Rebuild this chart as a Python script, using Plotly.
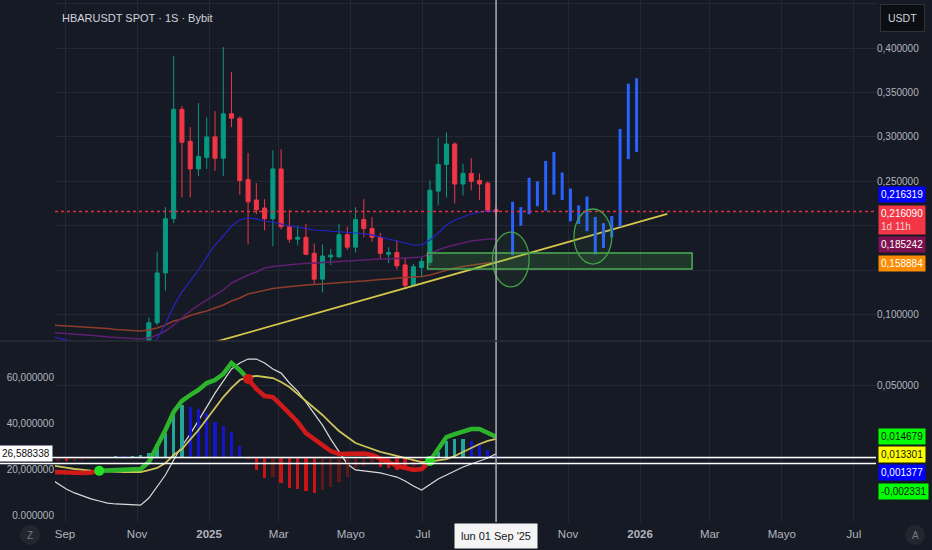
import plotly.graph_objects as go

# ---------------- data ----------------
weeks = ["2024-08-19", "2024-08-26", "2024-09-02", "2024-09-09", "2024-09-16", "2024-09-23",
         "2024-09-30", "2024-10-07", "2024-10-14", "2024-10-21", "2024-10-28", "2024-11-04",
         "2024-11-11", "2024-11-18", "2024-11-25", "2024-12-02", "2024-12-09", "2024-12-16",
         "2024-12-23", "2024-12-30", "2025-01-06", "2025-01-13", "2025-01-20", "2025-01-27",
         "2025-02-03", "2025-02-10", "2025-02-17", "2025-02-24", "2025-03-03", "2025-03-10",
         "2025-03-17", "2025-03-24", "2025-03-31", "2025-04-07", "2025-04-14", "2025-04-21",
         "2025-04-28", "2025-05-05", "2025-05-12", "2025-05-19", "2025-05-26", "2025-06-02",
         "2025-06-09", "2025-06-16", "2025-06-23", "2025-06-30", "2025-07-07", "2025-07-14",
         "2025-07-21", "2025-07-28", "2025-08-04", "2025-08-11", "2025-08-18", "2025-08-25",
         "2025-09-01"]

candle_dates = weeks[12:]
candle_open = [0.060, 0.091, 0.147, 0.208, 0.331, 0.295, 0.264, 0.277, 0.300, 0.276, 0.326,
               0.321, 0.252, 0.229, 0.220, 0.208, 0.264, 0.199, 0.185, 0.187, 0.169, 0.140,
               0.165, 0.165, 0.190, 0.176, 0.207, 0.197, 0.187, 0.168, 0.170, 0.156, 0.133,
               0.153, 0.159, 0.239, 0.269, 0.292, 0.247, 0.259, 0.251, 0.248, 0.218]
candle_high = [0.097, 0.171, 0.221, 0.391, 0.335, 0.311, 0.338, 0.322, 0.329, 0.401, 0.373,
               0.323, 0.282, 0.248, 0.230, 0.285, 0.286, 0.218, 0.200, 0.202, 0.180, 0.179,
               0.174, 0.202, 0.199, 0.221, 0.230, 0.210, 0.192, 0.176, 0.184, 0.164, 0.157,
               0.165, 0.251, 0.299, 0.305, 0.294, 0.270, 0.276, 0.259, 0.250, 0.224]
candle_low = [0.055, 0.088, 0.127, 0.203, 0.232, 0.232, 0.256, 0.264, 0.262, 0.256, 0.311,
              0.235, 0.179, 0.213, 0.195, 0.177, 0.196, 0.181, 0.178, 0.167, 0.134, 0.125,
              0.156, 0.164, 0.173, 0.170, 0.187, 0.182, 0.162, 0.158, 0.151, 0.129, 0.132,
              0.143, 0.155, 0.223, 0.232, 0.225, 0.234, 0.240, 0.229, 0.216, 0.211]
candle_close = [0.091, 0.147, 0.208, 0.331, 0.294, 0.264, 0.278, 0.300, 0.276, 0.326, 0.321,
                0.251, 0.227, 0.218, 0.208, 0.264, 0.199, 0.185, 0.187, 0.168, 0.140, 0.166,
                0.167, 0.190, 0.176, 0.207, 0.197, 0.187, 0.169, 0.170, 0.155, 0.133, 0.154,
                0.160, 0.240, 0.269, 0.292, 0.247, 0.259, 0.250, 0.247, 0.217, 0.21609]

ma_blue = [0.0760, 0.0738, 0.0715, 0.0693, 0.066, 0.063, 0.061, 0.059, 0.058, 0.057, 0.056, 0.055,
           0.062, 0.0727, 0.0895, 0.1098, 0.1255, 0.1379, 0.1503, 0.1650, 0.1784, 0.1885, 0.1998,
           0.2065, 0.2088, 0.2077, 0.2054, 0.2043, 0.2020, 0.1998, 0.1986, 0.1970, 0.1953, 0.1947,
           0.1942, 0.1936, 0.1930, 0.1919, 0.1908, 0.1897, 0.1874, 0.1852, 0.1823, 0.1807, 0.1784,
           0.1784, 0.1840, 0.1919, 0.2009, 0.2065, 0.2099, 0.2133, 0.2155, 0.2166, 0.216319]
ma_purple = [0.0800, 0.0794, 0.0783, 0.0777, 0.0772, 0.0766, 0.0760, 0.0749, 0.0743, 0.0738,
             0.0732, 0.0727, 0.0738, 0.0772, 0.0817, 0.0884, 0.0963, 0.1042, 0.1109, 0.1165,
             0.1222, 0.1278, 0.1357, 0.1402, 0.1447, 0.1480, 0.1525, 0.1542, 0.1554, 0.1565,
             0.1570, 0.1576, 0.1582, 0.1587, 0.1593, 0.1593, 0.1604, 0.1610, 0.1615, 0.1621,
             0.1627, 0.1627, 0.1632, 0.1632, 0.1638, 0.1649, 0.1683, 0.1728, 0.1762, 0.1784,
             0.1807, 0.1829, 0.1840, 0.1852, 0.185242]
ma_brown = [0.0884, 0.0879, 0.0873, 0.0867, 0.0862, 0.0856, 0.0850, 0.0845, 0.0834, 0.0828,
            0.0822, 0.0817, 0.0828, 0.0850, 0.0884, 0.0929, 0.0952, 0.0991, 0.1019, 0.1042,
            0.1075, 0.1109, 0.1154, 0.1188, 0.1233, 0.1255, 0.1278, 0.1295, 0.1306, 0.1317,
            0.1328, 0.1334, 0.1340, 0.1345, 0.1351, 0.1357, 0.1368, 0.1373, 0.1379, 0.1390,
            0.1396, 0.1402, 0.1413, 0.1418, 0.1424, 0.1430, 0.1447, 0.1475, 0.1503, 0.1525,
            0.1542, 0.1559, 0.1570, 0.1582, 0.158884]

proj_dates = ["2025-09-15", "2025-09-22", "2025-09-29", "2025-10-06", "2025-10-13", "2025-10-20",
              "2025-10-27", "2025-11-03", "2025-11-10", "2025-11-17", "2025-11-24", "2025-12-01",
              "2025-12-08", "2025-12-15", "2025-12-22", "2025-12-29"]
proj_high = [0.227, 0.221, 0.254, 0.250, 0.273, 0.283, 0.260, 0.242, 0.223, 0.233, 0.210, 0.203,
             0.211, 0.309, 0.360, 0.366]
proj_low = [0.167, 0.200, 0.213, 0.222, 0.217, 0.235, 0.229, 0.205, 0.202, 0.194, 0.168, 0.175,
            0.187, 0.199, 0.275, 0.283]

trend_x = ["2024-12-15", "2026-01-24"]
trend_y = [0.0611, 0.2133]
zone_x = ["2025-07-05", "2026-02-14"]
zone_y = [0.1514, 0.1694]
ell_x0 = ["2025-08-29", "2025-11-06"]
ell_x1 = ["2025-09-29", "2025-12-08"]
ell_y0 = [0.1312, 0.1570]
ell_y1 = [0.1930, 0.2189]
last_price = 0.21609

macd = [-0.0095, -0.0097, -0.0100, -0.0104, -0.0104, -0.0100, -0.0089, -0.0087, -0.0087, -0.0087,
        -0.0083, -0.0076, -0.0028, 0.0076, 0.0194, 0.0319, 0.0395, 0.0436, 0.0471, 0.0519, 0.0540,
        0.0582, 0.0658, 0.0609, 0.0547, 0.0478, 0.0429, 0.0422, 0.0367, 0.0305, 0.0249, 0.0173,
        0.0132, 0.0083, 0.0048, 0.0028, 0.0028, 0.0035, 0.0031, 0.0021, 0.0000, -0.0028, -0.0055,
        -0.0069, -0.0083, -0.0076, -0.0021, 0.0062, 0.0145, 0.0166, 0.0187, 0.0201, 0.0201, 0.0173,
        0.014679]
signal = [-0.0048, -0.0055, -0.0066, -0.0076, -0.0083, -0.0087, -0.0090, -0.0093, -0.0097, -0.0097,
          -0.0097, -0.0097, -0.0083, -0.0069, -0.0035, 0.0021, 0.0062, 0.0125, 0.0194, 0.0270,
          0.0346, 0.0422, 0.0485, 0.0540, 0.0561, 0.0568, 0.0561, 0.0554, 0.0526, 0.0492, 0.0443,
          0.0395, 0.0346, 0.0298, 0.0242, 0.0187, 0.0145, 0.0104, 0.0083, 0.0062, 0.0042, 0.0028,
          0.0014, 0.0000, -0.0014, -0.0028, -0.0024, -0.0017, -0.0007, 0.0014, 0.0042, 0.0069,
          0.0097, 0.0118, 0.013301]
hist = [-0.0025, -0.0020, -0.0022, -0.0020, -0.0015, -0.0010, 0.0003, 0.0006, 0.0010, 0.0010,
        0.0013, 0.0020, 0.0035, 0.0097, 0.0173, 0.0298, 0.0367, 0.0353, 0.0339, 0.0312, 0.0249,
        0.0222, 0.0180, 0.0083, -0.0007, -0.0083, -0.0139, -0.0132, -0.0173, -0.0208, -0.0218,
        -0.0226, -0.0242, -0.0222, -0.0201, -0.0166, -0.0132, -0.0069, -0.0055, -0.0042, -0.0062,
        -0.0069, -0.0083, -0.0084, -0.0069, -0.0035, 0.0004, 0.0042, 0.0118, 0.0132, 0.0133,
        0.0118, 0.0097, 0.0055, 0.001377]
osc_white = [16.0, 13.5, 11.3, 9.6, 8.3, 7.0, 6.1, 5.2, 4.8, 4.6, 4.3, 4.3, 7.4, 12.2, 17.4, 23.9,
             30.0, 35.2, 40.9, 47.0, 53.0, 58.3, 63.5, 66.1, 67.8, 67.8, 66.1, 63.5, 61.7, 57.4,
             53.9, 49.1, 43.9, 39.1, 33.0, 27.8, 22.2, 19.6, 19.1, 18.7, 18.3, 17.4, 16.5, 14.8,
             12.6, 10.9, 13.5, 15.7, 17.4, 19.1, 20.9, 22.2, 23.5, 24.8, 26.588338]
osc_levels = [25.0, 22.4]

x_tick_vals = ["2024-09-01", "2024-11-01", "2025-01-01", "2025-03-01", "2025-05-01", "2025-07-01",
               "2025-09-01", "2025-11-01", "2026-01-01", "2026-03-01", "2026-05-01", "2026-07-01"]
x_tick_text = ["Sep", "Nov", "<b>2025</b>", "Mar", "Mayo", "Jul", "", "Nov", "<b>2026</b>", "Mar",
               "Mayo", "Jul"]
price_ticks = [0.10, 0.15, 0.20, 0.25, 0.30, 0.35, 0.40, 0.45]
price_tick_text = ["0,100000", "", "", "0,250000", "0,300000", "0,350000", "0,400000", ""]
osc_ticks = [0, 20, 40, 60]
osc_tick_text = ["0.000000", "20,000000", "40,000000", "60,000000"]
macd_ticks = [0.0, 0.05]
macd_tick_text = ["", "0,050000"]
crosshair_date = "2025-09-01"

# ---------------- style ----------------
FONT = "Liberation Sans, Arial, sans-serif"
BG = "#161a25"
GRID = "#242835"
TXT = "#b2b5be"
UP = "#089981"
DOWN = "#f23645"

fig = go.Figure()

# moving averages (main pane)
fig.add_trace(go.Scatter(x=weeks, y=ma_brown, mode="lines", line=dict(color="#8e3d2c", width=1.5),
                         xaxis="x", yaxis="y", hoverinfo="skip"))
fig.add_trace(go.Scatter(x=weeks, y=ma_purple, mode="lines", line=dict(color="#5f1f70", width=1.5),
                         xaxis="x", yaxis="y", hoverinfo="skip"))
fig.add_trace(go.Scatter(x=weeks, y=ma_blue, mode="lines", line=dict(color="#2424c8", width=1.2),
                         xaxis="x", yaxis="y", hoverinfo="skip"))

# candles
fig.add_trace(go.Candlestick(
    x=candle_dates, open=candle_open, high=candle_high, low=candle_low, close=candle_close,
    increasing=dict(line=dict(color=UP, width=1), fillcolor=UP),
    decreasing=dict(line=dict(color=DOWN, width=1), fillcolor=DOWN),
    whiskerwidth=0, xaxis="x", yaxis="y", hoverinfo="skip"))

# trendline
fig.add_trace(go.Scatter(x=trend_x, y=trend_y, mode="lines", line=dict(color="#d6c64a", width=1.8),
                         xaxis="x", yaxis="y", hoverinfo="skip"))

# projected bars
pxs, pys = [], []
for d, lo, hi in zip(proj_dates, proj_low, proj_high):
    pxs += [d, d, None]
    pys += [lo, hi, None]
fig.add_trace(go.Scatter(x=pxs, y=pys, mode="lines", line=dict(color="#2962ff", width=3),
                         xaxis="x", yaxis="y", hoverinfo="skip", connectgaps=False))

# lower pane: oscillator (left scale)
fig.add_trace(go.Scatter(x=weeks, y=osc_white, mode="lines", line=dict(color="#d9d9d9", width=1.2),
                         xaxis="x", yaxis="y2", hoverinfo="skip"))

# histogram colours
hcol = []
for i, h in enumerate(hist):
    prev = hist[i - 1] if i > 0 else h
    if h >= 0:
        hcol.append("#26a69a" if h > prev else "#1414d2")
    else:
        hcol.append("#c81414" if h < prev else "#5e1818")
fig.add_trace(go.Bar(x=weeks, y=hist, marker=dict(color=hcol, line=dict(width=0)),
                     width=2.8 * 86400000, xaxis="x", yaxis="y3", hoverinfo="skip"))

# signal
fig.add_trace(go.Scatter(x=weeks, y=signal, mode="lines", line=dict(color="#cdc45a", width=1.8),
                         xaxis="x", yaxis="y3", hoverinfo="skip"))

# macd coloured segments
state = [m >= s for m, s in zip(macd, signal)]
start = 0
for i in range(1, len(macd) + 1):
    if i == len(macd) or state[i] != state[start]:
        end = min(i, len(macd) - 1)
        seg_x = weeks[start:end + 1]
        seg_y = macd[start:end + 1]
        fig.add_trace(go.Scatter(x=seg_x, y=seg_y, mode="lines",
                                 line=dict(color="#2cb52c" if state[start] else "#d01a1a", width=4.5),
                                 xaxis="x", yaxis="y3", hoverinfo="skip"))
        start = i
cx, cy, cc = [], [], []
for i in range(1, len(macd)):
    if state[i] != state[i - 1]:
        cx.append(weeks[i]); cy.append(macd[i])
        cc.append("#22e022" if state[i] else "#d01a1a")
fig.add_trace(go.Scatter(x=cx, y=cy, mode="markers", marker=dict(color=cc, size=10),
                         xaxis="x", yaxis="y3", hoverinfo="skip"))

# ---------------- shapes ----------------
shapes = []
shapes.append(dict(type="rect", xref="x", yref="y", x0=zone_x[0], x1=zone_x[1], y0=zone_y[0], y1=zone_y[1],
                   line=dict(color="#4caf50", width=1.5), fillcolor="rgba(76,175,80,0.18)"))
for a, b, c, d in zip(ell_x0, ell_x1, ell_y0, ell_y1):
    shapes.append(dict(type="circle", xref="x", yref="y", x0=a, x1=b, y0=c, y1=d,
                       line=dict(color="#43a047", width=1.3), fillcolor="rgba(76,175,80,0.08)"))
shapes.append(dict(type="line", xref="x domain", yref="y", x0=0, x1=1, y0=last_price, y1=last_price,
                   line=dict(color="#e0303f", width=1.5, dash="dot")))
for lv in osc_levels:
    shapes.append(dict(type="line", xref="paper", yref="y2", x0=-0.068, x1=1.0, y0=lv, y1=lv,
                       line=dict(color="#ffffff", width=1.6)))
shapes.append(dict(type="line", xref="x", yref="paper", x0=crosshair_date, x1=crosshair_date, y0=0, y1=1,
                   line=dict(color="#a9acb5", width=1.5)))
shapes.append(dict(type="line", xref="paper", yref="paper", x0=-0.068, x1=1.07, y0=0.3467, y1=0.3467,
                   line=dict(color="#2a2e39", width=1.5)))
# bottom icons
shapes.append(dict(type="circle", xref="paper", yref="paper", x0=-0.0426, x1=-0.0182, y0=-0.0441,
                   y1=-0.0058, line=dict(width=0), fillcolor="#22262f"))
shapes.append(dict(type="circle", xref="paper", yref="paper", x0=1.0354, x1=1.0597, y0=-0.0441,
                   y1=-0.0058, line=dict(width=0), fillcolor="#22262f"))

# ---------------- annotations ----------------
ann = []
ann.append(dict(text="HBARUSDT SPOT · 1S · Bybit", xref="paper", yref="paper", x=0.006, y=0.966,
                xanchor="left", yanchor="middle", showarrow=False,
                font=dict(family=FONT, size=11, color="#d1d4dc")))
ann.append(dict(text="USDT", xref="paper", yref="paper", x=1, xshift=4, y=0.966, xanchor="left",
                yanchor="middle", showarrow=False, bgcolor="#0c0e13", bordercolor="#2e323d",
                borderwidth=1, borderpad=7, font=dict(family=FONT, size=10.5, color="#d1d4dc")))


def badge(text, yref, yval, bg, fg, yshift=0, right=True):
    return dict(text=text, xref="paper", x=1 if right else 0, xanchor="left" if right else "right",
                xshift=2 if right else -2, yref=yref, y=yval, yanchor="middle", yshift=yshift,
                showarrow=False, bgcolor=bg, borderpad=2, align="left",
                font=dict(family=FONT, size=10, color=fg))


ann.append(badge("0,216319", "y", ma_blue[-1], "#0000ff", "#ffffff", 17))
ann.append(badge("0,216090<br><span style='color:#f5d0d4'>1d 11h</span>", "y", last_price, DOWN,
                 "#ffffff", -8))
ann.append(badge("0,185242", "y", ma_purple[-1], "#7d1150", "#ffffff", -6))
ann.append(badge("0,158884", "y", ma_brown[-1], "#fb8c00", "#ffffff", -1))
ann.append(badge("0,014679", "y3", macd[-1], "#00ff00", "#111111", 0))
ann.append(badge("0,013301", "y3", signal[-1], "#ffff00", "#111111", -16))
ann.append(badge("0,001377", "y3", hist[-1], "#0000ff", "#ffffff", -16))
ann.append(badge("-0,002331", "y3", -0.002331, "#00ff00", "#111111", -30))
ann.append(badge("26,588338", "y2", osc_white[-1], "#ffffff", "#111111", 0, right=False))
ann.append(dict(text="lun 01 Sep '25", xref="x", x=crosshair_date, yref="paper", y=0, yanchor="top",
                yshift=-1, showarrow=False, bgcolor="#f4f4f4", borderpad=6,
                font=dict(family=FONT, size=11, color="#131722")))
ann.append(dict(text="Z", xref="paper", yref="paper", x=-0.0304, y=-0.025, yanchor="middle",
                xanchor="center", showarrow=False, font=dict(family=FONT, size=10, color="#787b86")))
ann.append(dict(text="A", xref="paper", yref="paper", x=1.0476, y=-0.025, yanchor="middle",
                xanchor="center", showarrow=False, font=dict(family=FONT, size=10, color="#787b86")))

fig.update_layout(
    width=932, height=550,
    margin=dict(l=55, r=56, t=0, b=28),
    paper_bgcolor=BG, plot_bgcolor=BG,
    showlegend=False, separators=",.",
    bargap=0, barmode="overlay",
    font=dict(family=FONT, color=TXT),
    xaxis=dict(type="date", domain=[0, 1], anchor="y2",
               range=["2024-08-23 12:00", "2026-07-19 18:00"],
               tickmode="array", tickvals=x_tick_vals, ticktext=x_tick_text,
               showgrid=True, gridcolor=GRID, gridwidth=1, zeroline=False, showline=False,
               ticks="", ticklabelstandoff=3, tickfont=dict(family=FONT, size=11.5, color=TXT),
               rangeslider=dict(visible=False)),
    yaxis=dict(domain=[0.3467, 1], anchor="x", side="right", range=[0.0704, 0.4540],
               tickmode="array", tickvals=price_ticks, ticktext=price_tick_text,
               showgrid=True, gridcolor=GRID, zeroline=False, showline=False, ticks="",
               tickfont=dict(family=FONT, size=10, color=TXT)),
    yaxis2=dict(domain=[0, 0.3467], anchor="x", side="left", range=[-3.04, 75.65],
                tickmode="array", tickvals=osc_ticks, ticktext=osc_tick_text,
                showgrid=False, zeroline=False, showline=False, ticks="",
                tickfont=dict(family=FONT, size=10, color=TXT)),
    yaxis3=dict(overlaying="y2", anchor="x", side="right", range=[-0.0443, 0.0810],
                tickmode="array", tickvals=macd_ticks, ticktext=macd_tick_text,
                showgrid=True, gridcolor=GRID, zeroline=False, showline=False, ticks="",
                tickfont=dict(family=FONT, size=10, color=TXT)),
    shapes=shapes, annotations=ann,
)

fig.write_html("out.html", config={"displayModeBar": False},
               post_script="document.body.style.margin='0px';document.body.style.overflow='hidden';")
